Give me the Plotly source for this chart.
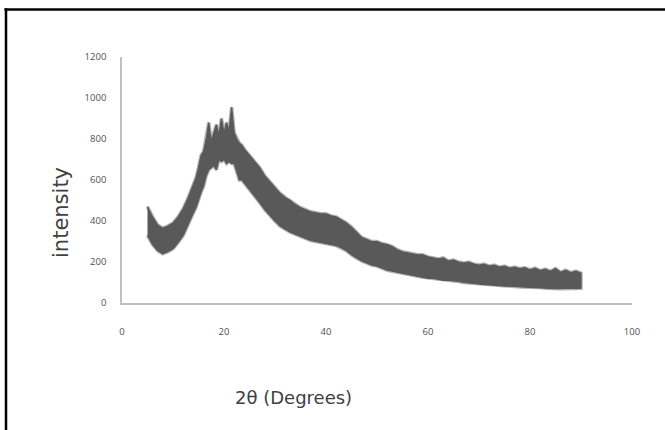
import plotly.graph_objects as go

# 2-theta positions (degrees)
two_theta = [5, 6, 7, 8, 9, 10, 11, 12, 13,
             14, 14.5, 15, 15.5, 16, 16.5, 17, 17.5, 18, 18.5, 19, 19.5, 20, 20.5, 21, 21.5,
             22, 22.5, 23, 23.5, 24,
             25, 26, 27, 28, 29, 30, 31, 32, 33, 34, 35, 36, 37, 38, 39, 40,
             41, 42, 43, 44, 45, 46, 47, 48, 49, 50, 51, 52, 53, 54, 55, 56, 57, 58,
             59, 60, 61, 62, 63, 64, 65, 66, 67, 68, 69, 70, 71, 72, 73, 74, 75, 76,
             77, 78, 79, 80, 81, 82, 83, 84, 85, 86, 87, 88, 89, 90]

# upper edge of the noisy intensity trace
intensity_high = [470, 420, 380, 365, 375, 390, 420, 460, 515,
                  575, 610, 660, 720, 740, 800, 880, 790, 830, 870, 820, 900, 830, 880, 840, 955,
                  830, 800, 780, 770, 750,
                  720, 690, 660, 620, 590, 560, 535, 515, 500, 480, 465, 455, 445, 440, 435, 435,
                  425, 420, 405, 390, 370, 345, 320, 310, 300, 300, 290, 285, 275, 260, 250, 245, 240, 235,
                  235, 225, 220, 215, 220, 205, 210, 200, 195, 200, 190, 185, 190, 180, 185, 175, 180, 170,
                  175, 168, 172, 162, 170, 158, 165, 155, 168, 150, 160, 148, 155, 145]

# lower edge of the noisy intensity trace
intensity_low = [330, 285, 255, 240, 250, 265, 295, 330, 385,
                 440, 465, 500, 540, 570, 620, 650, 660, 670, 650, 700, 690, 700, 680, 690, 680,
                 680, 640, 600, 600, 580,
                 550, 520, 490, 455, 425, 400, 375, 360, 345, 335, 325, 315, 305, 300, 295, 290,
                 285, 280, 270, 255, 235, 220, 205, 195, 185, 180, 170, 160, 155, 150, 145, 140, 135, 130,
                 125, 120, 120, 115, 110, 110, 108, 105, 100, 95, 95, 92, 90, 88, 85, 85, 82, 82,
                 80, 78, 78, 76, 75, 75, 72, 72, 70, 70, 70, 72, 70, 72]

x_ticks = [0, 20, 40, 60, 80, 100]
y_ticks = [0, 200, 400, 600, 800, 1000, 1200]

band_color = "#595959"

poly_x = two_theta + two_theta[::-1]
poly_y = intensity_high + intensity_low[::-1]

fig = go.Figure()
# soft halo to imitate the blurred, noisy edge of the scan
fig.add_trace(go.Scatter(
    x=poly_x, y=poly_y, mode="lines",
    line=dict(color="rgba(89,89,89,0.45)", width=3.5),
    hoverinfo="skip", showlegend=False,
))
fig.add_trace(go.Scatter(
    x=poly_x, y=poly_y, mode="lines",
    fill="toself", fillcolor=band_color,
    line=dict(color=band_color, width=1.2),
    hoverinfo="skip", showlegend=False,
))

W, H = 665, 430
L, R, T, B = 122, 33, 57, 127
pw, ph = W - L - R, H - T - B

def px(xp):
    return (xp - L) / pw

def py(yp):
    return (H - B - yp) / ph

fig.update_layout(
    width=W, height=H,
    margin=dict(l=L, r=R, t=T, b=B),
    paper_bgcolor="white",
    plot_bgcolor="white",
    showlegend=False,
    xaxis=dict(
        range=[0, 100], tickvals=x_ticks, ticktext=[str(v) for v in x_ticks],
        showgrid=False, zeroline=False, showline=True, linecolor="#c0c0c0", linewidth=1.5,
        ticks="", ticklabelstandoff=19,
        tickfont=dict(family="Open Sans", size=9.5, color="#505050"),
    ),
    yaxis=dict(
        range=[0, 1200], tickvals=y_ticks, ticktext=[str(v) for v in y_ticks],
        showgrid=False, zeroline=False, showline=True, linecolor="#c0c0c0", linewidth=1.5,
        ticks="", ticklabelstandoff=12,
        tickfont=dict(family="Open Sans", size=9.5, color="#505050"),
    ),
    annotations=[
        dict(text="intensity", xref="paper", yref="paper", x=px(61), y=py(213),
             showarrow=False, textangle=-90, xanchor="center", yanchor="middle",
             font=dict(family="DejaVu Sans", size=21, color="#404040")),
        dict(text="2θ (Degrees)", xref="paper", yref="paper", x=px(293), y=py(397),
             showarrow=False, xanchor="center", yanchor="middle",
             font=dict(family="DejaVu Sans", size=18, color="#404040")),
    ],
    shapes=[
        dict(type="line", xref="paper", yref="paper", x0=px(4.5), x1=px(W + 5), y0=py(9.5), y1=py(9.5),
             line=dict(color="black", width=2.5)),
        dict(type="line", xref="paper", yref="paper", x0=px(6), x1=px(6), y0=py(8.3), y1=py(H + 5),
             line=dict(color="black", width=2.5)),
    ],
)

fig.write_html(
    "out.html",
    config={"displayModeBar": False},
    post_script="document.body.style.margin='0px';document.body.style.overflow='hidden';",
)
